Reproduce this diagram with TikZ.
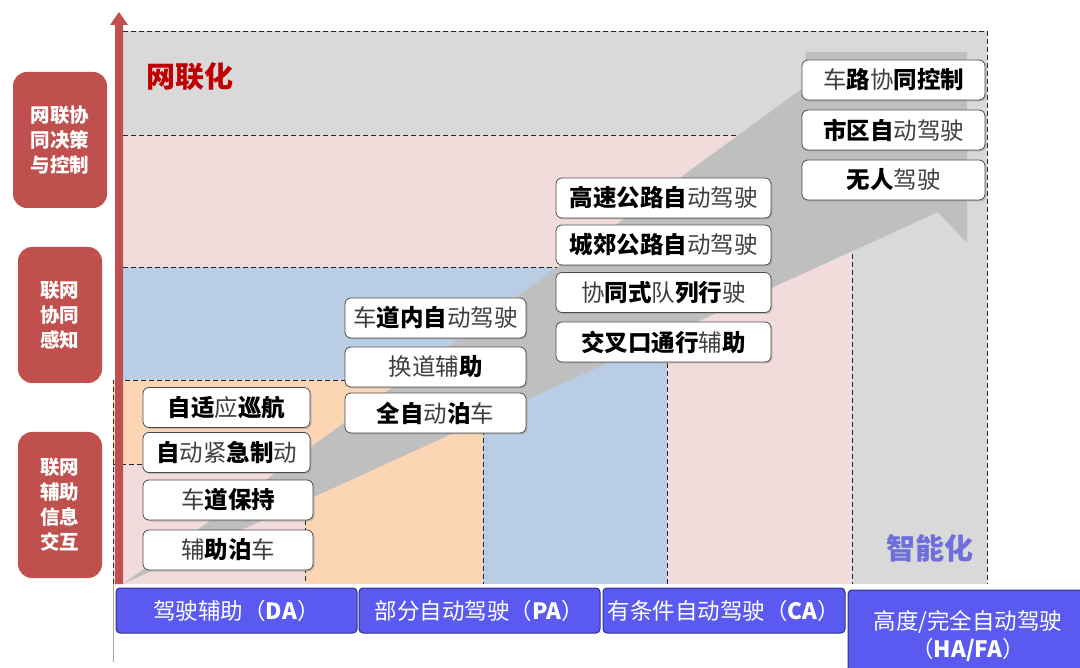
\documentclass[tikz,border=0pt]{standalone}
\usepackage{fontspec}
\setmainfont{Noto Sans CJK SC}
\usetikzlibrary{shadows}
\definecolor{bggray}{HTML}{D9D9D9}
\definecolor{pinkc}{HTML}{F2DCDB}
\definecolor{bluec}{HTML}{B9CDE5}
\definecolor{orangec}{HTML}{FCD5B5}
\definecolor{arrowgray}{HTML}{BFBFBF}
\definecolor{redc}{HTML}{C0504D}
\definecolor{titlered}{HTML}{C00000}
\definecolor{smartblue}{HTML}{6E6EDC}
\definecolor{lvlblue}{HTML}{5A5AF0}
\definecolor{lvlborder}{HTML}{2E2E8A}
\newcommand{\bb}[1]{{\bfseries\color{black}#1}}
\begin{document}
\begin{tikzpicture}[x=1pt,y=-1pt,
  dsh/.style={black!85, line width=0.7pt, dash pattern=on 5pt off 3pt},
  tbox/.style={draw=black!70, line width=0.8pt, fill=white, rounded corners=6pt,
    minimum height=40pt, inner sep=0pt, text=black!75,
    font=\fontsize{23.5}{25}\selectfont,
    drop shadow={shadow xshift=1.5pt, shadow yshift=-1.5pt, fill=black!40}},
  rbox/.style={fill=redc, rounded corners=14pt, text=white, align=center,
    inner sep=0pt, font=\fontsize{19.5}{25}\selectfont\bfseries},
  lvl/.style={fill=lvlblue, draw=lvlborder, line width=1pt, rounded corners=4pt,
    text=white, inner sep=0pt, align=center, font=\fontsize{22.5}{28}\selectfont},
  bigtitle/.style={font=\fontsize{29}{30}\selectfont\bfseries, inner sep=0pt}
]
\useasboundingbox (0,0) rectangle (1080,668);
\fill[white] (0,0) rectangle (1080,668);

% nested regions
\fill[bggray] (123,31) rectangle (987,584);
\fill[pinkc] (123,135) rectangle (852,584);
\fill[bluec] (123,267) rectangle (667,584);
\fill[orangec] (113,380) rectangle (483,584);
\fill[pinkc] (113,464) rectangle (305,584);

% dashed borders
\draw[dsh] (123,31) -- (987,31) -- (987,584);
\draw[dsh] (123,135) -- (852,135) -- (852,584);
\draw[dsh] (123,267) -- (667,267) -- (667,584);
\draw[dsh] (113,584) -- (113,380) -- (483,380) -- (483,584);
\draw[dsh] (113,464) -- (305,464) -- (305,584);

% big gray arrow
\fill[arrowgray] (123,584) -- (803,88) -- (806,52) -- (967,52) -- (967,243) -- (938,212) -- cycle;

% red vertical axis arrow
\fill[redc] (115,584) -- (115,25) -- (110,25) -- (119,12) -- (128,25) -- (123,25) -- (123,584) -- cycle;
\draw[gray!70, line width=1pt] (113,584) -- (113,662);

% titles
\node[bigtitle, text=titlered] (net) at (190,77) {网联化};
\node[bigtitle, text=smartblue] (smart) at (930,548) {智能化};

% left red boxes
\node[rbox, minimum width=94pt, minimum height=136pt] (r1) at (60,140) {网联协\\同决策\\与控制};
\node[rbox, minimum width=84pt, minimum height=136pt] (r2) at (60,315) {联网\\协同\\感知};
\node[rbox, minimum width=84pt, minimum height=146pt] (r3) at (60,505) {联网\\辅助\\信息\\交互};

% DA column
\node[tbox, minimum width=167pt] (a1) at (226.5,407.5) {\bb{自适}应\bb{巡航}};
\node[tbox, minimum width=167pt] (a2) at (226.5,452.5) {\bb{自}动紧\bb{急制}动};
\node[tbox, minimum width=170pt] (a3) at (228,500) {车\bb{道保持}};
\node[tbox, minimum width=170pt] (a4) at (228,550) {辅\bb{助泊}车};

% PA column
\node[tbox, minimum width=181pt] (b1) at (435.5,318) {车\bb{道内自}动驾驶};
\node[tbox, minimum width=181pt] (b2) at (435.5,367) {换道辅\bb{助}};
\node[tbox, minimum width=181pt] (b3) at (435.5,413) {\bb{全自}动\bb{泊}车};

% CA column
\node[tbox, minimum width=215pt] (c1) at (663.5,198) {\bb{高速公路自}动驾驶};
\node[tbox, minimum width=215pt] (c2) at (663.5,245) {\bb{城郊公路自}动驾驶};
\node[tbox, minimum width=215pt] (c3) at (663.5,292.5) {协\bb{同式}队\bb{列行}驶};
\node[tbox, minimum width=215pt] (c4) at (663.5,342) {\bb{交叉口通行}辅\bb{助}};

% HA/FA column
\node[tbox, minimum width=183pt] (d1) at (893.5,80) {车\bb{路}协\bb{同控制}};
\node[tbox, minimum width=183pt] (d2) at (893.5,130) {\bb{市区自}动驾驶};
\node[tbox, minimum width=183pt] (d3) at (893.5,180) {\bb{无人}驾驶};

% level bar
\node[lvl, minimum width=241pt, minimum height=45pt] (l1) at (236.5,610.5) {驾驶辅助（\textbf{DA}）};
\node[lvl, minimum width=241pt, minimum height=45pt] (l2) at (479.5,610.5) {部分自动驾驶（\textbf{PA}）};
\node[lvl, minimum width=242pt, minimum height=45pt] (l3) at (724,610.5) {有条件自动驾驶（\textbf{CA}）};
\node[lvl, minimum width=240pt, minimum height=92pt] (l4) at (968,636) {高度/完全自动驾驶\\（\textbf{HA/FA}）};
\end{tikzpicture}
\end{document}
